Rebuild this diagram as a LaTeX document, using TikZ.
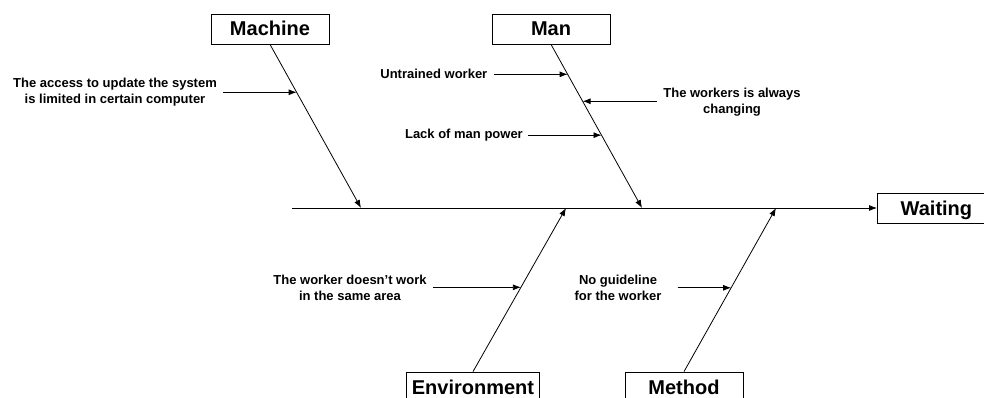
\documentclass[tikz,border=0pt]{standalone}
\usepackage{fontspec}
\setmainfont{Liberation Sans}
\usepackage{tikz}
\usetikzlibrary{arrows.meta,calc}
\tikzset{
  catbox/.style={draw, line width=0.8pt, minimum width=118pt, minimum height=30pt, inner sep=0pt,
    text height=14pt, text depth=0pt, font=\bfseries\fontsize{20}{22}\selectfont},
  causetxt/.style={inner sep=0pt, align=center, font=\bfseries\fontsize{13}{15.5}\selectfont},
  bone/.style={line width=0.8pt, -{Latex[length=8pt,width=6pt]}},
}

\begin{document}
\begin{tikzpicture}[x=1pt,y=-1pt]
		\useasboundingbox (0,0) rectangle (984,398);
		%%  categories  %%%%%%%%
		\node[catbox] (machine) at (270,29) {Machine};
		\node[catbox] (man) at (551,29) {Man};
		\node[catbox, minimum width=133pt] (env) at (473,387) {Environment};
		\node[catbox] (method) at (684,387) {Method};
		\node[catbox, anchor=west] (waiting) at (877,208) {Waiting};
		%%  spine  %%%%%%%%
		\coordinate (tail) at (292,208);
		\coordinate (mA) at (361,208);
		\coordinate (mB) at (642,208);
		\coordinate (mC) at (566,208);
		\coordinate (mD) at (776,208);
		\draw[bone] (tail) -- (waiting.west);
		\draw[bone] (machine.south) -- (mA);
		\draw[bone] (man.south) -- (mB);
		\draw[bone] (env.north) -- (mC);
		\draw[bone] (method.north) -- (mD);
		%%  causes  %%%%%%%%
		\coordinate (b1) at ($(machine.south)!48/164!(mA)$);
		\coordinate (b2) at ($(man.south)!30/164!(mB)$);
		\coordinate (b3) at ($(man.south)!57/164!(mB)$);
		\coordinate (b4) at ($(man.south)!91/164!(mB)$);
		\coordinate (b5) at ($(env.north)!84.5/164!(mC)$);
		\coordinate (b6) at ($(method.north)!84/164!(mD)$);
		\node[causetxt] (c1) at (115,92) {The access to update the system\\is limited in certain computer};
		\node[causetxt, anchor=east] (c2) at (487.5,74) {Untrained worker};
		\node[causetxt] (c3) at (732,102) {The workers is always\\changing};
		\node[causetxt, anchor=east] (c4) at (523,135) {Lack of man power};
		\node[causetxt] (c5) at (350,288) {The worker doesn’t work\\in the same area};
		\node[causetxt] (c6) at (618,288) {No guideline\\for the worker};
		\draw[bone] ([xshift=6pt]c1.east |- b1) -- (b1);
		\draw[bone] ([xshift=6pt]c2.east |- b2) -- (b2);
		\draw[bone] ([xshift=-6pt]c3.west |- b3) -- (b3);
		\draw[bone] ([xshift=5pt]c4.east |- b4) -- (b4);
		\draw[bone] ([xshift=6pt]c5.east |- b5) -- (b5);
		\draw[bone] ([xshift=16pt]c6.east |- b6) -- (b6);
		%%%%%%%%%%%%%%%
\end{tikzpicture}
\end{document}
